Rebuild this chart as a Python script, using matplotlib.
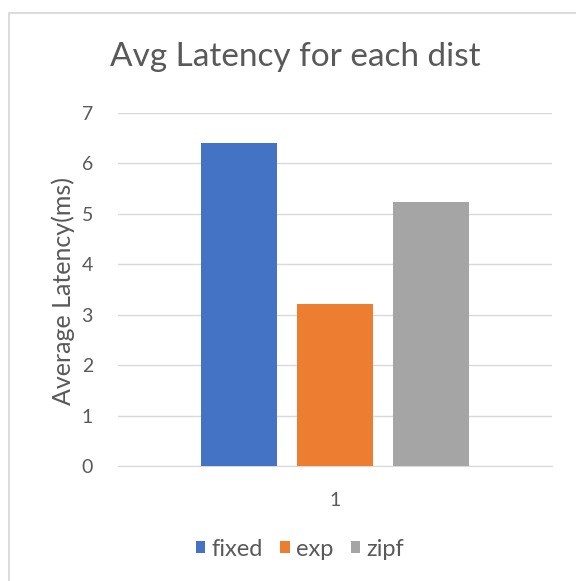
import matplotlib.pyplot as plt
from matplotlib.patches import Rectangle

dists = ["fixed", "exp", "zipf"]
avg_latency = [6.41, 3.21, 5.24]
colors = ["#4472C4", "#ED7D31", "#A5A5A5"]
offsets = [-0.96, 0.0, 0.96]
yticks = [0, 1, 2, 3, 4, 5, 6, 7]

plt.rcParams['font.family'] = ['Lato', 'DejaVu Sans']
txt = "#595959"

W, H = 576, 581
fig = plt.figure(figsize=(W / 100, H / 100), dpi=100)

# light frame around the chart area (right and bottom edges run off the canvas)
fig.patches.append(Rectangle((9 / W, -0.05), 1.1, 1.05 - 13 / H, transform=fig.transFigure,
                             fill=False, edgecolor="#D9D9D9", linewidth=1.3))

ax = fig.add_axes([118 / W, (H - 466) / H, (552 - 118) / W, (466 - 113) / H])

for d, v, c, o in zip(dists, avg_latency, colors, offsets):
    ax.bar(o, v, width=0.76, color=c, label=d, zorder=3)

ax.set_xlim(-2.17, 2.17)
ax.set_ylim(0, 7)
ax.set_yticks(yticks)
ax.set_xticks([0])
ax.set_xticklabels(["1"])
ax.yaxis.grid(True, color="#D9D9D9", linewidth=1.0, zorder=0)
ax.tick_params(axis="both", length=0, colors=txt, labelsize=14)
ax.tick_params(axis="y", pad=18)
ax.tick_params(axis="x", pad=19)
for s in ["top", "right", "left"]:
    ax.spines[s].set_visible(False)
ax.spines["bottom"].set_color("#D9D9D9")

fig.text(63 / W, (H - 291) / H, "Average Latency(ms)", rotation=90,
         ha="center", va="center", fontsize=18, color=txt)

fig.text(295 / W, 1 - 57 / H, "Avg Latency for each dist", ha="center", va="center",
         fontsize=24, color=txt)

fig.legend(loc="center", bbox_to_anchor=(300 / W, 1 - 549 / H), ncol=3, frameon=False,
           fontsize=17, labelcolor=txt, handlelength=0.4, handleheight=0.4,
           handletextpad=0.25, columnspacing=0.75)

fig.savefig("out.png", dpi=100)
